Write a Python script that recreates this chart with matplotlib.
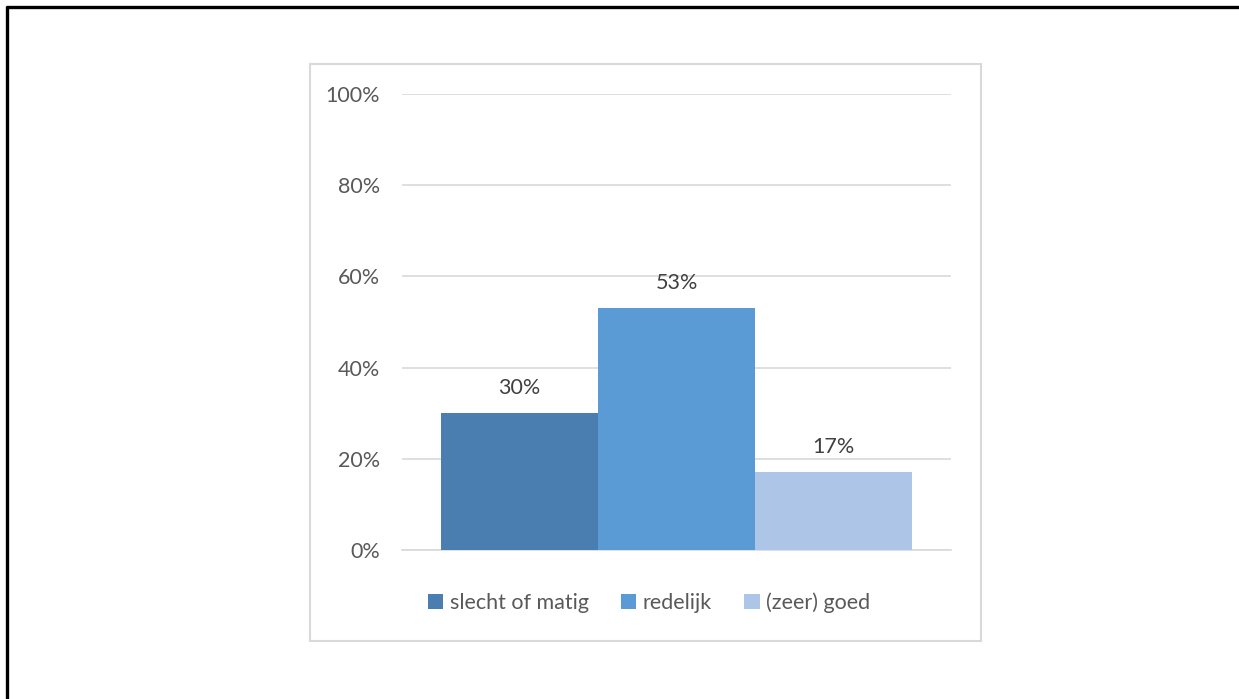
import matplotlib
matplotlib.use("Agg")
import matplotlib.pyplot as plt
from matplotlib.patches import Rectangle, Patch
from matplotlib.lines import Line2D

W, H = 1239, 699

categories = ["slecht of matig", "redelijk", "(zeer) goed"]
values = [30, 53, 17]
colors = ["#4A7EB1", "#5B9BD5", "#ADC5E6"]
yticks = [0, 20, 40, 60, 80, 100]
ytick_labels = ["0%", "20%", "40%", "60%", "80%", "100%"]

plt.rcParams["font.family"] = ["Lato", "DejaVu Sans"]
FS = 15.5

fig = plt.figure(figsize=(W / 100, H / 100), dpi=100)

def fx(px):
    return px / W

def fy(py):
    return 1 - py / H

# page border lines
fig.add_artist(Line2D([fx(6), fx(1239)], [fy(6.5), fy(6.5)], color="black", lw=2.4,
                      transform=fig.transFigure, solid_capstyle="butt"))
fig.add_artist(Line2D([fx(7), fx(7)], [fy(5.5), fy(699)], color="black", lw=2.4,
                      transform=fig.transFigure, solid_capstyle="butt"))

# chart frame
fig.add_artist(Rectangle((fx(310), fy(641)), fx(981) - fx(310), fy(64) - fy(641),
                         transform=fig.transFigure, fill=False, edgecolor="#D9D9D9", lw=1.5))

ax = fig.add_axes([fx(402), fy(550), fx(951) - fx(402), fy(94) - fy(550)])

# one category, three series side by side (gap width 50%)
bar_w = 1.0
gap = 0.5
n = len(values)
total = n * bar_w + gap
xs = [gap / 2 + bar_w * (i + 0.5) for i in range(n)]
ax.set_xlim(0, total)
ax.set_ylim(0, 100)

for x, v, c in zip(xs, values, colors):
    ax.bar(x, v, width=bar_w, color=c, zorder=3)
    ax.text(x, v + 3.3, f"{v}%", ha="center", va="bottom", fontsize=FS, color="#404040")

ax.set_yticks(yticks)
ax.set_yticklabels(ytick_labels, fontsize=FS, color="#595959")
ax.tick_params(axis="y", length=0, pad=16)
ax.set_xticks([])
ax.grid(axis="y", color="#D9D9D9", lw=1.2, zorder=0)
for s in ["top", "right", "left"]:
    ax.spines[s].set_visible(False)
ax.spines["bottom"].set_color("#D9D9D9")
ax.spines["bottom"].set_linewidth(1.2)

handles = [Patch(facecolor=c, edgecolor="none") for c in colors]
fig.legend(handles, categories, loc="center", bbox_to_anchor=(fx(649), fy(603)), ncol=3,
           frameon=False, fontsize=FS, labelcolor="#595959", handlelength=0.72,
           handleheight=0.72, handletextpad=0.3, columnspacing=1.5)

fig.savefig("out.png", dpi=100, facecolor="white")
